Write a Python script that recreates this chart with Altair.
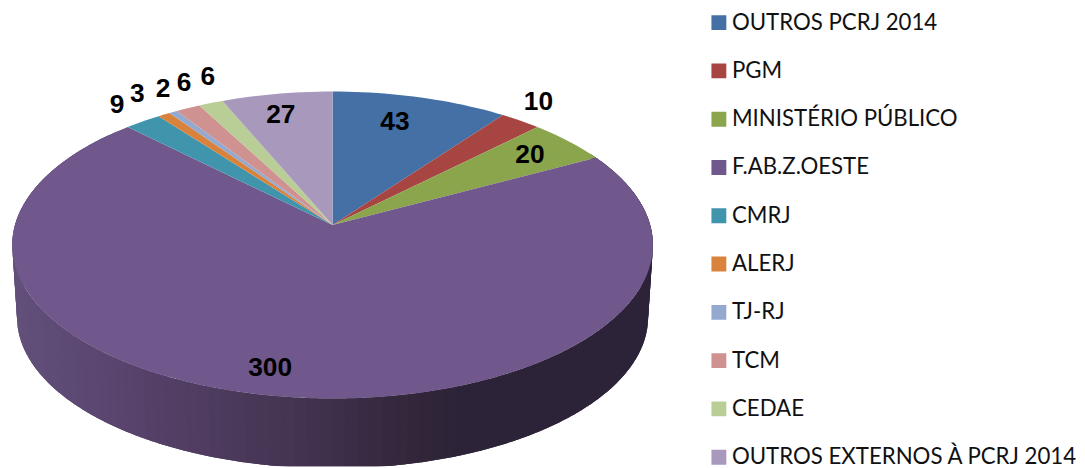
import math
import altair as alt

names = ["OUTROS PCRJ 2014", "PGM", "MINISTÉRIO PÚBLICO", "F.AB.Z.OESTE", "CMRJ", "ALERJ",
         "TJ-RJ", "TCM", "CEDAE", "OUTROS EXTERNOS À PCRJ 2014"]
values = [43, 10, 20, 300, 9, 3, 2, 6, 6, 27]
labels = ["43", "10", "20", "300", "9", "3", "2", "6", "6", "27"]
colors = ["#4470A5", "#A74543", "#8AA54C", "#71588C", "#4095AD", "#D9823C",
          "#93A9CF", "#CF9291", "#B9CD96", "#A798BC"]
# label offset from the slice's rim point, screen px
label_dx = [-26, 18, -39, -9, -26, -27, -10, -4, -3, 4]
label_dy = [25, -19, 14, -28, -16, -21, -23, -25, -26, 21]
# shading of the pie's side wall, from left to right
wall_x = [-320, -233, -133, -33, 17, 87, 127, 320]
wall_rgb = [(0x62, 0x50, 0x7A), (0x5A, 0x46, 0x70), (0x4F, 0x3C, 0x60), (0x44, 0x33, 0x50),
            (0x3B, 0x2D, 0x47), (0x31, 0x26, 0x39), (0x2C, 0x23, 0x38), (0x2C, 0x23, 0x38)]

A, B, K = 320.0, 152.0, 0.13      # perspective of the pie's disc
WALL, SHRINK = 73.0, 0.985        # depth of the wall
APEX_X, APEX_Y = 335 - 8, 225 - 8  # page margin is 8px


def rim(deg):
    t = math.radians(deg)
    u, v = math.sin(t), math.cos(t)
    w = 1 + K * v
    return [A * u / w, B * v / w]


def low(p):
    return [p[0] * SHRINK, p[1] * SHRINK - WALL]


def wall_color(x):
    for i in range(len(wall_x) - 1):
        if x <= wall_x[i + 1]:
            f = max(0.0, (x - wall_x[i]) / (wall_x[i + 1] - wall_x[i]))
            c = [round(a + (b - a) * f) for a, b in zip(wall_rgb[i], wall_rgb[i + 1])]
            return "#%02x%02x%02x" % tuple(c)
    return "#2c2338"


total = sum(values)
slices, label_rows = [], []
cum = 0
for n, val, lab, dx, dy in zip(names, values, labels, label_dx, label_dy):
    a0 = cum / total * 360
    cum += val
    a1 = cum / total * 360
    steps = max(2, int((a1 - a0) / 1.5))
    ring = [[0, 0]] + [rim(a0 + (a1 - a0) * i / steps) for i in range(steps + 1)] + [[0, 0]]
    slices.append({"type": "Feature", "properties": {"name": n},
                   "geometry": {"type": "Polygon", "coordinates": [ring]}})
    p = rim((a0 + a1) / 2)
    label_rows.append({"lon": p[0] + dx, "lat": p[1] - dy, "label": lab})

# wall pieces overlap the next one so that no seam shows between them
strips = []
a = 60.0
i = 0
while a < 310:
    pts = [rim(a + s * 0.5) for s in range(9)]
    shade = wall_color(sum(p[0] for p in pts[:5]) / 5)
    ring = pts + [low(p) for p in reversed(pts)] + [pts[0]]
    strips.append({"type": "Feature", "properties": {"c": shade, "i": i},
                   "geometry": {"type": "Polygon", "coordinates": [ring]}})
    a += 2
    i += 1


def geo(features):
    return alt.InlineData(values={"type": "FeatureCollection", "features": features},
                          format=alt.DataFormat(type="json", property="features"))


proj = dict(type="identity", reflectY=True, scale=1, translate=[APEX_X, APEX_Y])

wall = alt.Chart(geo(strips)).mark_geoshape(strokeWidth=0, opacity=1).encode(
    fill=alt.Fill("properties.c:N", scale=None, legend=None),
).project(**proj)

top = alt.Chart(geo(slices)).mark_geoshape(strokeWidth=0, opacity=1).encode(
    color=alt.Color("properties.name:N", scale=alt.Scale(domain=names, range=colors),
                    legend=alt.Legend(title=None, orient="none", legendX=705, legendY=3,
                                      symbolType="square", symbolSize=225, symbolStrokeWidth=0,
                                      symbolOpacity=1,
                                      labelFont="Lato", labelFontSize=22.4, labelColor="#111111",
                                      labelLimit=420, labelOffset=2, rowPadding=25.65, clipHeight=20,
                                      padding=0)),
).project(**proj)

text = alt.Chart(alt.Data(values=label_rows)).mark_text(
    font="Liberation Sans", fontWeight="bold", fontSize=26.5, color="#000000",
    align="center", baseline="middle",
).encode(longitude="lon:Q", latitude="lat:Q", text="label:N").project(**proj)

chart = alt.layer(wall, top, text).resolve_scale(color="independent").properties(
    width=1077, height=460, padding=0, autosize=alt.AutoSizeParams(type="none"),
    background="#ffffff",
).configure_view(stroke=None)

chart.save("out.html", embed_options={"renderer": "svg", "actions": False})
